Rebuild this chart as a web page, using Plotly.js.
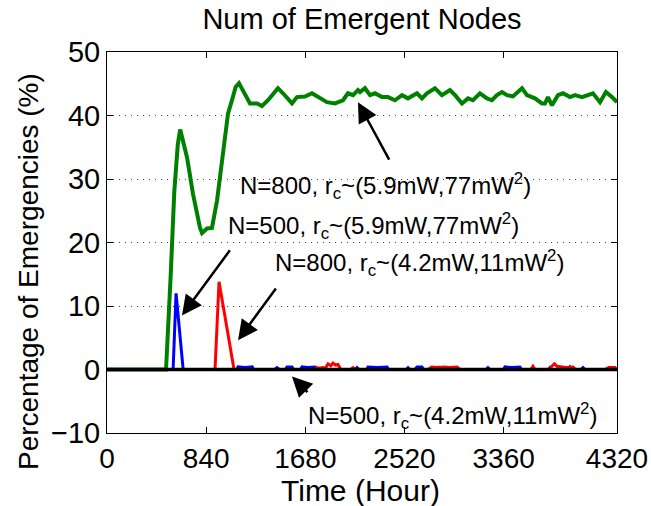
<!DOCTYPE html>
<html>
<head>
<meta charset="utf-8">
<script src="https://cdn.plot.ly/plotly-3.0.1.min.js"></script>
<style>
  html, body { margin: 0; padding: 0; background: #fff; }
  #chart { width: 651px; height: 506px; }
</style>
</head>
<body>
<div id="chart"></div>
<script>
// Time axis (hours) and tick labels
const xTicks = [0, 840, 1680, 2520, 3360, 4320];
const yTicks = [-10, 0, 10, 20, 30, 40, 50];

// N=800, rc~(5.9mW,77mW^2) — green
const hoursN800Hi = [0, 500, 540, 570, 600, 620, 678, 728, 788, 805, 847, 889, 932, 974, 999, 1025, 1060, 1090, 1118,
  1169, 1211, 1271, 1313, 1364, 1448, 1491, 1567, 1609, 1677, 1736, 1787, 1863, 1931, 1999, 2041, 2084, 2126,
  2143, 2185, 2228, 2270, 2329, 2380, 2439, 2499, 2549, 2626, 2668, 2710, 2778, 2837, 2905, 2948, 3007, 3058,
  3100, 3159, 3219, 3261, 3303, 3346, 3388, 3439, 3515, 3557, 3625, 3684, 3710, 3735, 3769, 3820, 3862, 3922,
  3964, 4023, 4066, 4116, 4176, 4226, 4277, 4320];
const pctN800Hi = [0, 0, 15, 28, 35.5, 37.8, 33.4, 27.7, 22.3, 21.5, 22.2, 22.3, 26.6, 33.4, 36.6, 40.3, 42.5, 44.5, 45.1,
  43.2, 41.9, 41.9, 41.5, 42.4, 44.3, 43.5, 41.9, 42.9, 43.0, 43.5, 42.9, 42.1, 41.9, 42.4, 43.5, 43.2, 44.0,
  43.7, 44.3, 43.2, 43.5, 42.9, 42.9, 42.4, 43.2, 42.7, 43.5, 42.7, 43.5, 44.3, 43.2, 44.0, 43.2, 41.9, 42.7,
  42.4, 43.5, 42.7, 42.4, 43.2, 43.7, 43.2, 43.0, 44.3, 43.2, 42.7, 41.9, 41.9, 42.9, 41.6, 43.2, 43.5, 42.9,
  43.2, 42.9, 43.2, 43.5, 42.1, 43.7, 42.9, 42.1];

// N=500, rc~(5.9mW,77mW^2) — blue
const hoursN500Hi = [0, 560, 585, 645, 1100, 1110, 1170, 1230, 1240, 1420, 1440, 1460, 1510, 1525, 1567, 1580,
  1640, 1652, 1700, 1762, 1775, 2100, 2118, 2135, 2200, 2211, 2290, 2372, 2385, 2535, 2550, 2565, 2610, 2626,
  2668, 2680, 2790, 2804, 2818, 3210, 3227, 3245, 3360, 3371, 3430, 3498, 3510, 3740, 3752, 3765, 3905, 3922,
  3940, 4015, 4032, 4050, 4245, 4261, 4278, 4320];
const pctN500Hi = [0, 0, 12, 0, 0, 0.4, 0.3, 0.4, 0, 0, 0.3, 0, 0, 0.4, 0.4, 0,
  0, 0.4, 0.3, 0.4, 0, 0, 0.3, 0, 0, 0.4, 0.3, 0.4, 0, 0, 0.3, 0, 0, 0.4,
  0.4, 0, 0, 0.3, 0, 0, 0.3, 0, 0, 0.4, 0.3, 0.4, 0, 0, 0.3, 0, 0, 0.4,
  0, 0, 0.3, 0, 0, 0.3, 0, 0];

// N=800, rc~(4.2mW,11mW^2) — red
const hoursN800Lo = [0, 915, 949, 1076, 1760, 1779, 1800, 1830, 1850, 1872, 1895, 1914, 1935, 1957, 1980, 2065,
  2084, 2105, 2720, 2750, 2800, 2863, 2900, 2965, 2990, 3590, 3608, 3625, 3740, 3770, 3790, 3812, 3837, 3890,
  3947, 3970, 4220, 4250, 4303, 4320];
const pctN800Lo = [0, 0, 13.8, 0, 0, 0.3, 0.2, 0.3, 0.2, 0.9, 0.6, 1.0, 0.7, 0.8, 0, 0,
  0.3, 0, 0, 0.4, 0.3, 0.4, 0.3, 0.4, 0, 0, 0.5, 0, 0, 0.6, 0.9, 0.5, 0.4, 0.3,
  0.4, 0, 0, 0.3, 0.3, 0];

// N=500, rc~(4.2mW,11mW^2) — black, no emergencies
const hoursN500Lo = [0, 4320];
const pctN500Lo = [0, 0];

const FONT = 'Liberation Sans, Arial, Helvetica, sans-serif';

const traces = [
  { x: hoursN800Hi, y: pctN800Hi, mode: 'lines', line: { color: '#008000', width: 4 }, hoverinfo: 'skip' },
  { x: hoursN500Hi, y: pctN500Hi, mode: 'lines', line: { color: '#0000ff', width: 3 }, hoverinfo: 'skip' },
  { x: hoursN800Lo, y: pctN800Lo, mode: 'lines', line: { color: '#ff0000', width: 3 }, hoverinfo: 'skip' },
  { x: hoursN500Lo, y: pctN500Lo, mode: 'lines', line: { color: '#000000', width: 3.5 }, hoverinfo: 'skip' }
];

// Callout labels (text centre) and their arrows (tail -> head), in axis units
const labels = [
  { text: 'N=800, r<sub>c</sub>~(5.9mW,77mW<sup>2</sup>)', x: 2360, y: 28.9, tail: [2397, 32.8], head: [2126, 42.1] },
  { text: 'N=500, r<sub>c</sub>~(5.9mW,77mW<sup>2</sup>)', x: 2260, y: 22.6, tail: [1050, 19.0], head: [635, 8.5] },
  { text: 'N=800, r<sub>c</sub>~(4.2mW,11mW<sup>2</sup>)', x: 2650, y: 16.8, tail: [1440, 13.0], head: [1110, 4.6] },
  { text: 'N=500, r<sub>c</sub>~(4.2mW,11mW<sup>2</sup>)', x: 2930, y: -7.4, tail: [1711, -3.8], head: [1567, -1.1] }
];

const annotations = [];
labels.forEach(l => {
  annotations.push({
    xref: 'x', yref: 'y', x: l.x, y: l.y, text: l.text, showarrow: false,
    xanchor: 'center', yanchor: 'middle', font: { family: FONT, size: 24, color: '#000' }
  });
  annotations.push({
    xref: 'x', yref: 'y', axref: 'x', ayref: 'y',
    x: l.head[0], y: l.head[1], ax: l.tail[0], ay: l.tail[1], text: '',
    showarrow: true, arrowhead: 2, arrowsize: 1.6, arrowwidth: 2.5, arrowcolor: '#000', standoff: 0
  });
});

// Axis titles
annotations.push({
  xref: 'paper', yref: 'paper', x: 0.497, y: -0.152, text: 'Time (Hour)', showarrow: false,
  xanchor: 'center', yanchor: 'middle', font: { family: FONT, size: 30, color: '#000' }
});
annotations.push({
  xref: 'paper', yref: 'paper', x: -0.155, y: 0.425, text: 'Percentage of Emergencies (%)', showarrow: false,
  textangle: -90, xanchor: 'center', yanchor: 'middle', font: { family: FONT, size: 28, color: '#000' }
});

const layout = {
  width: 651, height: 506,
  margin: { l: 107, r: 34, t: 52, b: 73 },
  paper_bgcolor: '#fff', plot_bgcolor: '#fff',
  showlegend: false,
  font: { family: FONT, color: '#000' },
  title: { text: 'Num of Emergent Nodes', font: { family: FONT, size: 29, color: '#000' },
           x: 0.5, xref: 'paper', xanchor: 'center', y: 0.962, yref: 'container', yanchor: 'middle' },
  xaxis: {
    range: [0, 4320], tickvals: xTicks, ticktext: xTicks.map(String),
    showline: true, linecolor: '#000', linewidth: 1, mirror: 'ticks',
    ticks: 'inside', ticklen: 6, tickcolor: '#000', showgrid: false, zeroline: false,
    tickfont: { family: FONT, size: 28, color: '#000' }
  },
  yaxis: {
    range: [-10, 50], tickvals: yTicks,
    showline: true, linecolor: '#000', linewidth: 1, mirror: 'ticks',
    ticks: 'inside', ticklen: 6, tickcolor: '#000', zeroline: false,
    showgrid: true, gridcolor: '#444', gridwidth: 1, griddash: '1px,5px',
    tickfont: { family: FONT, size: 29, color: '#000' }
  },
  annotations: annotations
};

Plotly.newPlot('chart', traces, layout, { staticPlot: true, displayModeBar: false });
</script>
</body>
</html>
